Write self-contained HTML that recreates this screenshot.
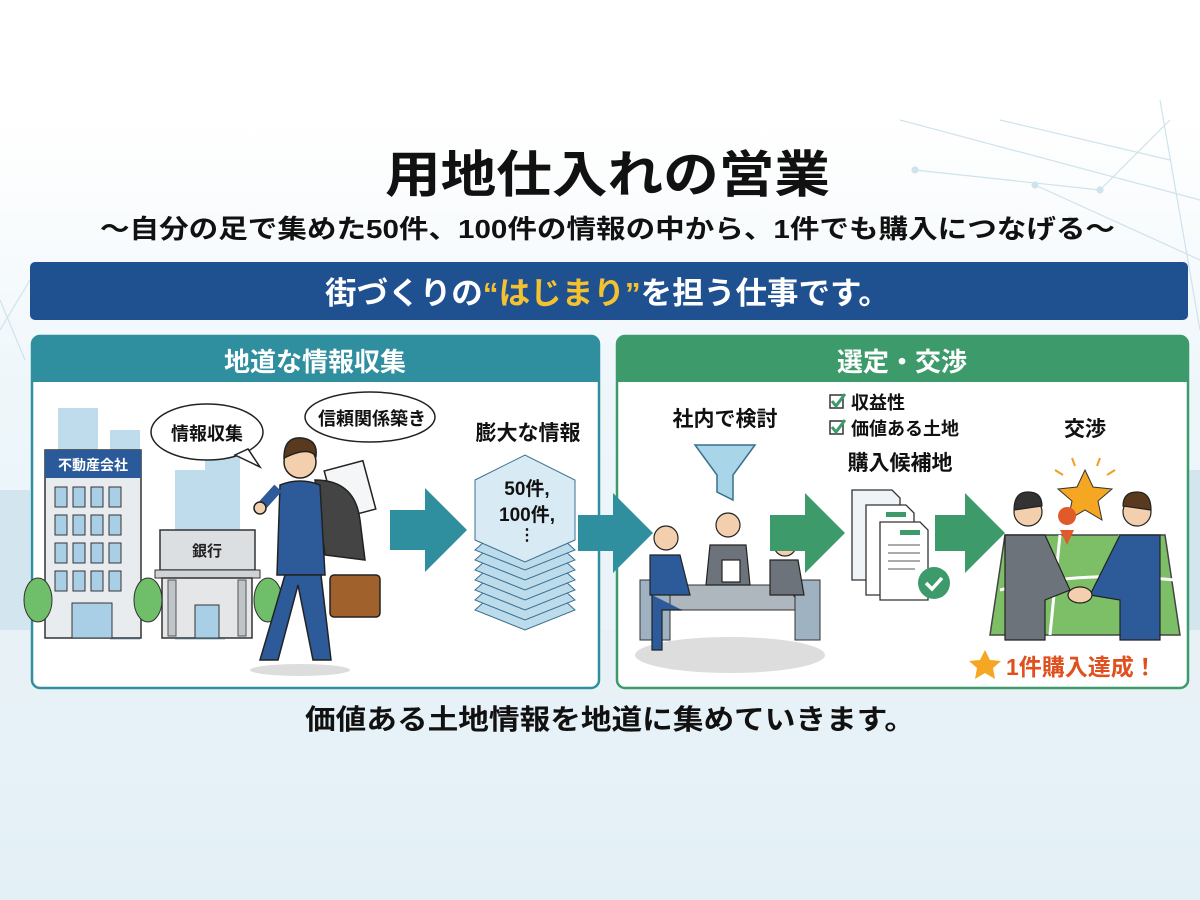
<!DOCTYPE html>
<html><head><meta charset="utf-8"><style>
html,body{margin:0;padding:0}
body{width:1200px;height:900px;overflow:hidden;background:linear-gradient(#ffffff 0px,#ffffff 120px,#eef6fa 400px,#e3f0f6 900px);font-family:"Liberation Sans","Noto Sans CJK JP",sans-serif}
svg{position:absolute;left:0;top:0}
</style></head><body>
<svg width="1200" height="900" viewBox="0 0 1200 900" font-family="Liberation Sans, Noto Sans CJK JP, sans-serif" font-weight="bold">
<g stroke="#cfe3ec" stroke-width="1.2" fill="#cfe3ec">
<line x1="900" y1="120" x2="1200" y2="200"/><line x1="915" y1="170" x2="1100" y2="190"/><line x1="1100" y1="190" x2="1170" y2="120"/><line x1="1035" y1="185" x2="1200" y2="260"/><line x1="1000" y1="120" x2="1170" y2="160"/><line x1="1160" y1="100" x2="1200" y2="330"/>
<circle cx="915" cy="170" r="3"/><circle cx="1035" cy="185" r="3"/><circle cx="1100" cy="190" r="3"/><circle cx="1070" cy="220" r="3"/>
<line x1="0" y1="330" x2="30" y2="280"/><line x1="0" y1="300" x2="25" y2="360"/>
</g>
<g fill="#d3e6ef"><rect x="0" y="490" width="30" height="150"/><rect x="1188" y="470" width="12" height="170"/></g>
<rect x="0" y="630" width="1200" height="70" fill="#e8f2f6"/>

<text x="385" y="192" font-size="50" fill="#111" textLength="445" lengthAdjust="spacingAndGlyphs">用地仕入れの営業</text>
<text x="100" y="238" font-size="26" fill="#111" textLength="1015" lengthAdjust="spacingAndGlyphs">～自分の足で集めた50件、100件の情報の中から、1件でも購入につなげる～</text>

<rect x="30" y="262" width="1158" height="58" rx="5" fill="#1f5090"/>
<text x="325" y="304" font-size="31" fill="#fff" textLength="565" lengthAdjust="spacingAndGlyphs">街づくりの<tspan fill="#f4c22f">“はじまり”</tspan>を担う仕事です。</text>

<rect x="32" y="336" width="567" height="352" rx="8" fill="#fff" stroke="#2f8f9f" stroke-width="2.5"/>
<path d="M32 344 a8 8 0 0 1 8 -8 h551 a8 8 0 0 1 8 8 v38 h-567z" fill="#2f8f9f"/>
<text x="315" y="371" text-anchor="middle" font-size="26" fill="#fff">地道な情報収集</text>

<g fill="#bfdcec"><rect x="58" y="408" width="40" height="230"/><rect x="110" y="430" width="30" height="210"/><rect x="175" y="470" width="50" height="170"/><rect x="205" y="430" width="35" height="100"/></g>
<rect x="45" y="450" width="96" height="188" fill="#e8ecef" stroke="#333" stroke-width="1.5"/>
<rect x="45" y="450" width="96" height="28" fill="#2a5a9a"/>
<text x="93" y="470" text-anchor="middle" font-size="14" fill="#fff">不動産会社</text>
<g fill="#a9cfe6" stroke="#333" stroke-width="1">
<rect x="55" y="487" width="12" height="20"/><rect x="73" y="487" width="12" height="20"/><rect x="91" y="487" width="12" height="20"/><rect x="109" y="487" width="12" height="20"/>
<rect x="55" y="515" width="12" height="20"/><rect x="73" y="515" width="12" height="20"/><rect x="91" y="515" width="12" height="20"/><rect x="109" y="515" width="12" height="20"/>
<rect x="55" y="543" width="12" height="20"/><rect x="73" y="543" width="12" height="20"/><rect x="91" y="543" width="12" height="20"/><rect x="109" y="543" width="12" height="20"/>
<rect x="55" y="571" width="12" height="20"/><rect x="73" y="571" width="12" height="20"/><rect x="91" y="571" width="12" height="20"/><rect x="109" y="571" width="12" height="20"/>
<rect x="72" y="603" width="40" height="35"/></g>
<rect x="160" y="530" width="95" height="40" fill="#dcdfe2" stroke="#333" stroke-width="1.5"/>
<text x="207" y="556" text-anchor="middle" font-size="15" fill="#222">銀行</text>
<rect x="155" y="570" width="105" height="8" fill="#cfd3d6" stroke="#333"/>
<rect x="162" y="578" width="90" height="60" fill="#e4e6e8" stroke="#333" stroke-width="1.5"/>
<g fill="#bfc4c8" stroke="#555"><rect x="168" y="580" width="8" height="56"/><rect x="238" y="580" width="8" height="56"/></g>
<rect x="195" y="605" width="24" height="33" fill="#a9cfe6" stroke="#333"/>
<g fill="#6fbf6a" stroke="#333" stroke-width="1"><ellipse cx="38" cy="600" rx="14" ry="22"/><ellipse cx="148" cy="600" rx="14" ry="22"/><ellipse cx="268" cy="600" rx="14" ry="22"/></g>
<ellipse cx="207" cy="432" rx="56" ry="28" fill="#fff" stroke="#222" stroke-width="1.5"/>
<path d="M235 455 l25 12 l-12 -18z" fill="#fff" stroke="#222" stroke-width="1.5"/>
<text x="207" y="440" text-anchor="middle" font-size="18" fill="#111">情報収集</text>
<ellipse cx="370" cy="417" rx="65" ry="25" fill="#fff" stroke="#222" stroke-width="1.5"/>
<text x="372" y="425" text-anchor="middle" font-size="18" fill="#111">信頼関係築き</text>
<g stroke="#222" stroke-width="1.5">
<rect x="330" y="465" width="40" height="50" fill="#f4f6f8" transform="rotate(-15 350 490)"/>
<path d="M315 480 q40 0 45 40 l5 40 l-40 -5z" fill="#444"/>
<circle cx="300" cy="462" r="16" fill="#f3cfae"/>
<path d="M284 458 q0 -22 18 -20 q16 2 14 18 q-8 -10 -32 2z" fill="#5a3a1f"/>
<path d="M280 485 q20 -8 40 0 l5 90 h-48z" fill="#2d5b9a"/>
<path d="M278 488 l-18 20" stroke-width="10" stroke="#2d5b9a"/>
<circle cx="260" cy="508" r="6" fill="#f3cfae"/>
<path d="M285 575 l-25 85 h18 l20 -75 l15 75 h18 l-10 -85z" fill="#2d5b9a"/>
<rect x="330" y="575" width="50" height="42" rx="4" fill="#a0612c"/>
<ellipse cx="300" cy="670" rx="50" ry="6" fill="#ddd" stroke="none"/>
</g>
<path d="M390 510 h35 v-22 l42 42 l-42 42 v-22 h-35z" fill="#2f8f9f"/>
<text x="528" y="440" text-anchor="middle" font-size="21" fill="#111">膨大な情報</text>
<g fill="#bcdcec" stroke="#3a6f8f" stroke-width="1">
<path d="M475 610 l50 -45 l50 45 l-50 20z"/><path d="M475 600 l50 -45 l50 45 l-50 20z"/><path d="M475 590 l50 -45 l50 45 l-50 20z"/><path d="M475 580 l50 -45 l50 45 l-50 20z"/><path d="M475 570 l50 -45 l50 45 l-50 20z"/><path d="M475 560 l50 -45 l50 45 l-50 20z"/><path d="M475 550 l50 -45 l50 45 l-50 20z"/>
<path d="M475 480 l50 -25 l50 25 v60 l-50 22 l-50 -22z" fill="#d8ebf4"/>
</g>
<text x="527" y="495" text-anchor="middle" font-size="19" fill="#111">50件,</text>
<text x="527" y="521" text-anchor="middle" font-size="19" fill="#111">100件,</text>
<text x="527" y="540" text-anchor="middle" font-size="16" fill="#111">⋮</text>

<rect x="617" y="336" width="571" height="352" rx="8" fill="#fff" stroke="#3d9b6b" stroke-width="2.5"/>
<path d="M617 344 a8 8 0 0 1 8 -8 h555 a8 8 0 0 1 8 8 v38 h-571z" fill="#3d9b6b"/>
<text x="902" y="371" text-anchor="middle" font-size="26" fill="#fff">選定・交渉</text>
<path d="M578 515 h35 v-22 l40 40 l-40 40 v-22 h-35z" fill="#2f8f9f"/>

<text x="725" y="426" text-anchor="middle" font-size="21" fill="#111">社内で検討</text>
<path d="M695 445 h60 l-22 30 v25 l-16 -8 v-17z" fill="#a8d5e8" stroke="#3a6f8f" stroke-width="1.5"/>
<ellipse cx="730" cy="655" rx="95" ry="18" fill="#ddd"/>
<path d="M670 585 h115 l20 25 h-155z" fill="#aeb6be" stroke="#333"/>
<rect x="640" y="580" width="30" height="60" fill="#9fb2c2" stroke="#333"/>
<rect x="795" y="580" width="25" height="60" fill="#9fb2c2" stroke="#333"/>
<g stroke="#222" stroke-width="1.2">
<circle cx="666" cy="538" r="12" fill="#f3cfae"/><path d="M650 555 h30 l10 40 h-40z" fill="#2d5b9a"/><path d="M652 595 v55 h10 v-40 h20" fill="#2d5b9a"/>
<circle cx="728" cy="525" r="12" fill="#f3cfae"/><path d="M710 545 h36 l4 40 h-44z" fill="#6d737a"/><rect x="722" y="560" width="18" height="22" fill="#fff"/>
<circle cx="785" cy="545" r="11" fill="#f3cfae"/><path d="M770 560 h28 l6 35 h-34z" fill="#6d737a"/>
</g>
<path d="M770 515 h35 v-22 l40 40 l-40 40 v-22 h-35z" fill="#3d9b6b"/>
<path d="M935 515 h30 v-22 l40 40 l-40 40 v-22 h-30z" fill="#3d9b6b"/>
<g fill="#fff" stroke="#333" stroke-width="1.5"><rect x="830" y="395" width="13" height="13"/><rect x="830" y="421" width="13" height="13"/></g>
<g stroke="#3d9b6b" stroke-width="3" fill="none"><path d="M832 401 l4 5 l9 -12"/><path d="M832 427 l4 5 l9 -12"/></g>
<text x="851" y="409" font-size="18" fill="#111">収益性</text>
<text x="851" y="435" font-size="18" fill="#111">価値ある土地</text>
<text x="900" y="470" text-anchor="middle" font-size="21" fill="#111">購入候補地</text>
<g fill="#fff" stroke="#333" stroke-width="1.3">
<path d="M852 490 h40 l8 8 v82 h-48z" fill="#eef4f8"/><path d="M866 505 h40 l8 8 v82 h-48z"/><path d="M880 522 h40 l8 8 v70 h-48z"/>
</g>
<g fill="#3d9b6b"><rect x="886" y="512" width="20" height="5"/><rect x="900" y="530" width="20" height="5"/></g>
<g stroke="#555"><line x1="888" y1="545" x2="920" y2="545"/><line x1="888" y1="553" x2="920" y2="553"/><line x1="888" y1="561" x2="920" y2="561"/><line x1="888" y1="569" x2="915" y2="569"/></g>
<circle cx="934" cy="583" r="16" fill="#3d9b6b"/><path d="M926 583 l6 6 l10 -11" stroke="#fff" stroke-width="3.5" fill="none"/>
<text x="1085" y="436" text-anchor="middle" font-size="21" fill="#111">交渉</text>
<g stroke="#f0a020" stroke-width="2"><line x1="1055" y1="470" x2="1063" y2="475"/><line x1="1072" y1="458" x2="1075" y2="466"/><line x1="1100" y1="458" x2="1097" y2="466"/><line x1="1115" y1="470" x2="1107" y2="475"/></g>
<path d="M1085 470 l8 17 l19 2 l-14 12 l4 19 l-17 -10 l-17 10 l4 -19 l-14 -12 l19 -2z" fill="#f5a623" stroke="#333" stroke-width="1"/>
<path d="M1005 535 h160 l15 100 h-190z" fill="#7cbf66" stroke="#444" stroke-width="1.5"/>
<g stroke="#fff" stroke-width="3" fill="none"><path d="M1000 590 q80 -20 175 -10"/><path d="M1060 535 l-10 100"/><path d="M1120 535 l10 100"/></g>
<path d="M1067 525 a9 9 0 1 1 0.1 0 z" fill="#e05a2a"/><path d="M1060 530 l7 15 l7 -15z" fill="#e05a2a"/>
<g stroke="#222" stroke-width="1.2">
<circle cx="1028" cy="512" r="14" fill="#f3cfae"/><path d="M1014 510 q0 -18 14 -18 q14 0 14 14z" fill="#333"/>
<path d="M1005 535 h40 l25 55 l-25 10 v40 h-40z" fill="#6d737a"/>
<circle cx="1137" cy="512" r="14" fill="#f3cfae"/><path d="M1123 506 q0 -14 14 -14 q14 0 14 18z" fill="#5a3a1f"/>
<path d="M1120 535 h40 v105 h-40 v-40 l-30 -5z" fill="#2d5b9a"/>
<ellipse cx="1080" cy="595" rx="12" ry="8" fill="#f3cfae"/>
</g>
<path d="M985 650 l5 10 l11 1 l-8 7 l2 11 l-10 -6 l-10 6 l2 -11 l-8 -7 l11 -1z" fill="#f5a623"/>
<text x="1006" y="675" font-size="23" fill="#e0501e">1件購入達成！</text>

<text x="305" y="729" font-size="28" fill="#111" textLength="610" lengthAdjust="spacingAndGlyphs">価値ある土地情報を地道に集めていきます。</text>
</svg>
</body></html>
